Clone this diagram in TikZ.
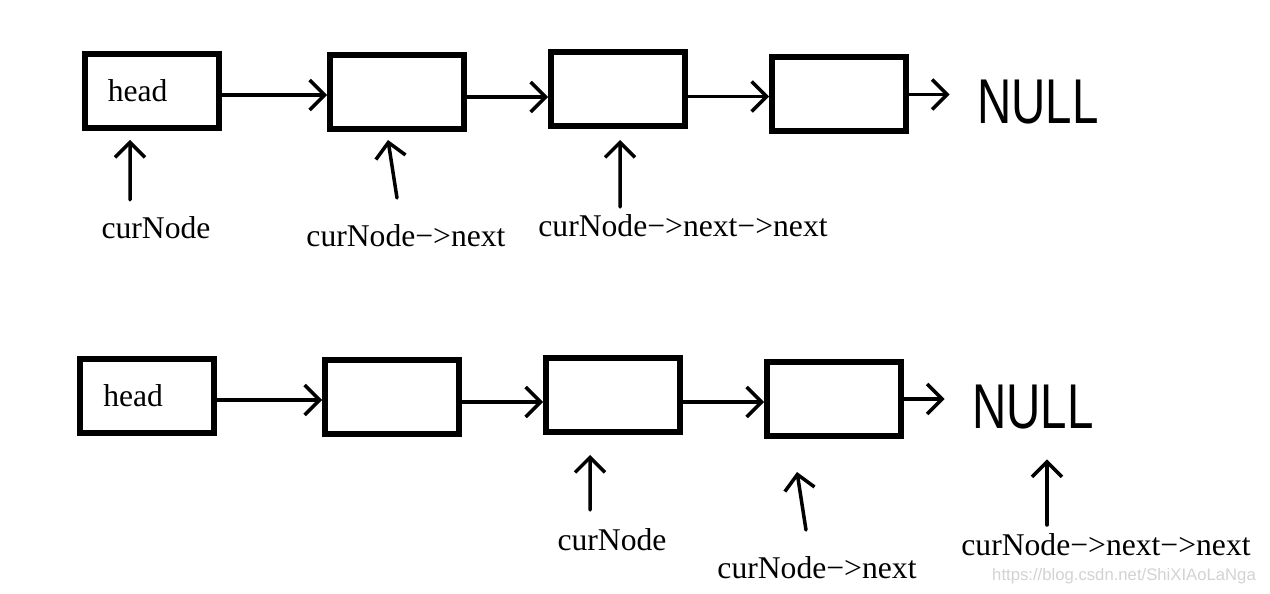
\documentclass[tikz,border=0pt]{standalone}
\usepackage{fontspec}
\setmainfont{Liberation Serif}
\newfontfamily\nilfont{Liberation Sans}
\usetikzlibrary{arrows.meta}

\begin{document}
\begin{tikzpicture}[>={Straight Barb[length=3mm,width=6mm]}, font=\fontsize{18}{20}\selectfont]

  \tikzstyle{cell}=[draw=black, line width=0.12cm,
    minimum width=2.68cm, minimum height=1.48cm, inner sep=0]
  \tikzstyle{link}=[black, line width=0.07cm, line cap=round, ->]
  \tikzstyle{nil}=[font=\nilfont\fontsize{36}{36}\selectfont,
    xscale=0.75, inner sep=0]

  \useasboundingbox (0,0) rectangle (25.4,11.86);

  % before
  \node [cell, text width=1.75cm, align=left] (a1) at (3.03,10.04) {head};
  \node [cell] (a2) at (7.94,10.02) {};
  \node [cell] (a3) at (12.36,10.07) {};
  \node [cell] (a4) at (16.78,9.97) {};
  \node [nil] (anull) at (20.76,9.82) {NULL};

  \node (acur) at (3.12,7.30) {curNode};
  \node (anext) at (8.12,7.14) {curNode−>next};
  \node (anext2) at (13.66,7.34) {curNode−>next−>next};

  \draw [link] ([yshift=-0.08cm]a1.east) -- ([yshift=-0.08cm]a1.east -| a2.west);
  \draw [link] ([yshift=-0.1cm]a2.east) -- ([yshift=-0.1cm]a2.east -| a3.west);
  \draw [link] ([yshift=-0.14cm]a3.east) -- ([yshift=-0.14cm]a3.east -| a4.west);
  \draw [link, shorten >=0.55cm] (a4.east) -- (a4.east -| anull.west);

  \coordinate (ta1) at (2.60,7.86);
  \coordinate (ta2) at (7.94,7.90);
  \coordinate (ta3) at (12.40,7.72);
  \draw [link] (ta1) -- ([xshift=-0.43cm,yshift=-0.18cm]a1.south);
  \draw [link] (ta2) -- ([xshift=-0.18cm,yshift=-0.16cm]a2.south);
  \draw [link] (ta3) -- ([xshift=0.04cm,yshift=-0.21cm]a3.south);

  % after
  \node [cell, text width=1.75cm, align=left] (b1) at (2.94,3.94) {head};
  \node [cell] (b2) at (7.84,3.92) {};
  \node [cell] (b3) at (12.26,3.96) {};
  \node [cell] (b4) at (16.68,3.88) {};
  \node [nil] (bnull) at (20.66,3.72) {NULL};

  \node (bcur) at (12.24,1.06) {curNode};
  \node (bnext) at (16.34,0.50) {curNode−>next};
  \node (bnext2) at (22.12,0.96) {curNode−>next−>next};

  \draw [link] ([yshift=-0.08cm]b1.east) -- ([yshift=-0.08cm]b1.east -| b2.west);
  \draw [link] ([yshift=-0.1cm]b2.east) -- ([yshift=-0.1cm]b2.east -| b3.west);
  \draw [link] ([yshift=-0.14cm]b3.east) -- ([yshift=-0.14cm]b3.east -| b4.west);
  \draw [link, shorten >=0.55cm] (b4.east) -- (b4.east -| bnull.west);

  \coordinate (tb1) at (11.80,1.66);
  \coordinate (tb2) at (16.12,1.26);
  \coordinate (tb3) at (20.94,1.36);
  \draw [link] (tb1) -- ([xshift=-0.46cm,yshift=-0.40cm]b3.south);
  \draw [link] (tb2) -- ([xshift=-0.74cm,yshift=-0.66cm]b4.south);
  \draw [link] (tb3) -- ([xshift=0.28cm,yshift=-0.60cm]bnull.south);

  \node [font=\nilfont\fontsize{9.5}{10}\selectfont, text=gray!35, anchor=east]
    (mark) at (25.24,0.34) {https://blog.csdn.net/ShiXIAoLaNga};

\end{tikzpicture}
\end{document}
